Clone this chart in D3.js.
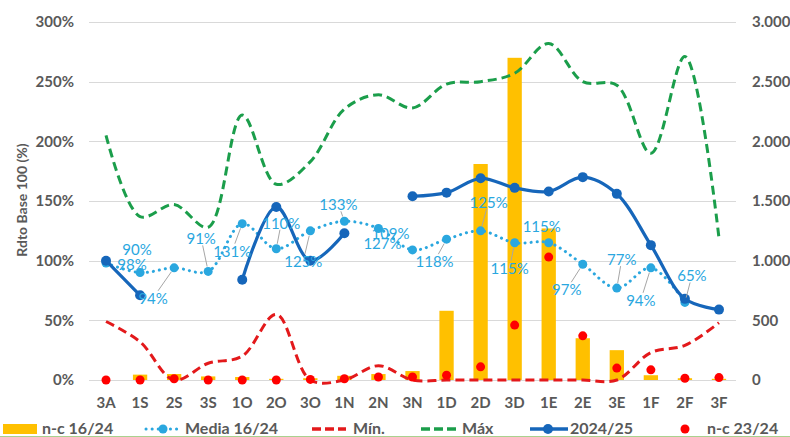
<!DOCTYPE html>
<html>
<head>
<meta charset="utf-8">
<script src="https://cdn.jsdelivr.net/npm/d3@7"></script>
<style>
  body { margin: 0; background: #fff; }
  svg { display: block; font-family: Lato, "Open Sans", sans-serif; }
</style>
</head>
<body>
<svg id="chart" width="790" height="437"></svg>
<script>
// categories (weeks)
const categories = ["3A","1S","2S","3S","1O","2O","3O","1N","2N","3N","1D","2D","3D","1E","2E","3E","1F","2F","3F"]

// right axis (n-c counts)
const nc1624 = [0, 45, 50, 30, 25, 10, 15, 35, 50, 75, 580, 1810, 2700, 1270, 350, 250, 40, 15, 10]
const nc2324 = [0, 0, 10, 0, 0, 0, 5, 10, 25, 25, 40, 110, 460, 1030, 370, 100, 85, 15, 20]

// left axis (ratio, 1 = 100%)
const media1624 = [0.98, 0.90, 0.94, 0.91, 1.31, 1.10, 1.25, 1.33, 1.27, 1.09, 1.18, 1.25, 1.15, 1.15, 0.97, 0.77, 0.94, 0.65, null]
const minVals = [0.49, 0.32, 0, 0.14, 0.20, 0.55, 0, 0, 0.12, 0, 0, 0, 0, 0, 0, 0, 0.23, 0.29, 0.48]
const maxVals = [2.05, 1.37, 1.47, 1.28, 2.22, 1.64, 1.83, 2.27, 2.39, 2.28, 2.48, 2.50, 2.57, 2.82, 2.50, 2.47, 1.90, 2.71, 1.19]
const season2425 = [1.00, 0.71, null, null, 0.84, 1.45, 1.00, 1.23, null, 1.54, 1.57, 1.69, 1.61, 1.58, 1.70, 1.56, 1.13, 0.68, 0.59]

const leftTicks = [0, 0.5, 1, 1.5, 2, 2.5, 3]
const rightTicks = [0, 500, 1000, 1500, 2000, 2500, 3000]

// label placement for the Media 16/24 data labels (moved by hand in the original)
const labelOffsets = [[26,1],[-3,-24],[-21,30],[-7,-33],[-10,27],[5,-26],[-7,30],[-6,-17],[4,15],[-22,-17],[-12,22],[8,-29],[-5,25],[-7,-17],[-16,25],[5,-29],[-10,32],[7,-27]]
const hasLeader = [false,false,true,true,true,true,true,true,false,false,true,true,true,false,true,true,true,true]

const colors = {
  bar: "#FFC000",
  media: "#2AA7DF",
  min: "#E3191B",
  max: "#1B9E4B",
  cur: "#1666BA",
  dot: "#FF0000",
  grid: "#D9D9D9",
  text: "#595959",
}

const margin = { top: 22, bottom: 57, left: 89, right: 54 }
const svg = d3.select("#chart")
const width = +svg.attr("width")
const height = +svg.attr("height")

const x = d3.scaleBand().domain(categories).range([margin.left, width - margin.right]).paddingInner(0.58).paddingOuter(0.29)
const xc = (c) => x(c) + x.bandwidth() / 2

const yL = d3.scaleLinear().domain([0, 3]).range([height - margin.bottom, margin.top])
const yR = d3.scaleLinear().domain([0, 3000]).range([height - margin.bottom, margin.top])

const esLocale = d3.formatLocale({ decimal: ",", thousands: ".", grouping: [3], currency: ["", "€"] })

// gridlines
svg.append("g")
  .selectAll("line")
  .data(leftTicks)
  .join("line")
  .attr("x1", margin.left)
  .attr("x2", width - margin.right)
  .attr("y1", (d) => Math.round(yL(d)) + 0.5)
  .attr("y2", (d) => Math.round(yL(d)) + 0.5)
  .attr("stroke", colors.grid)
  .attr("stroke-width", 1)

// axes
const gLeft = svg.append("g")
  .attr("transform", `translate(${margin.left - 15},0)`)
  .call(d3.axisLeft(yL).tickValues(leftTicks).tickFormat(d3.format(".0%")).tickSize(0))
const gRight = svg.append("g")
  .attr("transform", `translate(${width - margin.right + 16},0)`)
  .call(d3.axisRight(yR).tickValues(rightTicks).tickFormat(esLocale.format(",.0f")).tickSize(0))
const gX = svg.append("g")
  .attr("transform", `translate(0,${height - margin.bottom + 14})`)
  .call(d3.axisBottom(x).tickSize(0))

;[gLeft, gRight, gX].forEach((g) => {
  g.select(".domain").remove()
  g.selectAll("text")
    .attr("fill", colors.text)
    .attr("font-family", "Lato, sans-serif")
    .attr("font-size", 15)
    .attr("font-weight", "bold")
})
gLeft.selectAll("text").attr("x", 0)
gRight.selectAll("text").attr("x", 0)

// y title
svg.append("text")
  .attr("transform", `translate(27,${200}) rotate(-90)`)
  .attr("text-anchor", "middle")
  .attr("fill", colors.text)
  .attr("font-size", 14)
  .attr("font-weight", "bold")
  .text("Rdto Base 100 (%)")

// bars n-c 16/24
svg.append("g")
  .selectAll("rect")
  .data(categories.map((c, i) => ({ c, v: nc1624[i] })))
  .join("rect")
  .attr("x", (d) => x(d.c))
  .attr("width", x.bandwidth())
  .attr("y", (d) => yR(d.v))
  .attr("height", (d) => yR(0) - yR(d.v))
  .attr("fill", colors.bar)

const curve = d3.curveCatmullRom.alpha(0.5)
const lineL = d3.line()
  .defined((d) => d.v != null)
  .x((d) => xc(d.c))
  .y((d) => yL(d.v))
  .curve(curve)

function series(vals) {
  return categories.map((c, i) => ({ c, v: vals[i] }))
}

// Mín
svg.append("path")
  .datum(series(minVals))
  .attr("d", lineL)
  .attr("fill", "none")
  .attr("stroke", colors.min)
  .attr("stroke-width", 3)
  .attr("stroke-dasharray", "9 5")

// Máx
svg.append("path")
  .datum(series(maxVals))
  .attr("d", lineL)
  .attr("fill", "none")
  .attr("stroke", colors.max)
  .attr("stroke-width", 3)
  .attr("stroke-dasharray", "9 5")

// Media 16/24
const mediaData = series(media1624)
svg.append("path")
  .datum(mediaData)
  .attr("d", lineL)
  .attr("fill", "none")
  .attr("stroke", colors.media)
  .attr("stroke-width", 3)
  .attr("stroke-linecap", "round")
  .attr("stroke-dasharray", "0.1 6")
svg.append("g")
  .selectAll("circle")
  .data(mediaData.filter((d) => d.v != null))
  .join("circle")
  .attr("cx", (d) => xc(d.c))
  .attr("cy", (d) => yL(d.v))
  .attr("r", 4.5)
  .attr("fill", colors.media)

// 2024/25
const curData = series(season2425)
svg.append("path")
  .datum(curData)
  .attr("d", lineL)
  .attr("fill", "none")
  .attr("stroke", colors.cur)
  .attr("stroke-width", 3.2)
svg.append("g")
  .selectAll("circle")
  .data(curData.filter((d) => d.v != null))
  .join("circle")
  .attr("cx", (d) => xc(d.c))
  .attr("cy", (d) => yL(d.v))
  .attr("r", 5)
  .attr("fill", colors.cur)

// n-c 23/24 dots
svg.append("g")
  .selectAll("circle")
  .data(series(nc2324))
  .join("circle")
  .attr("cx", (d) => xc(d.c))
  .attr("cy", (d) => yR(d.v))
  .attr("r", 4.5)
  .attr("fill", colors.dot)

// Media labels with leader lines
const gLab = svg.append("g")
const labData = mediaData.filter((d) => d.v != null).map((d, i) => ({
  ...d,
  px: xc(d.c),
  py: yL(d.v),
  lx: xc(d.c) + labelOffsets[i][0],
  ly: yL(d.v) + labelOffsets[i][1],
  leader: hasLeader[i],
}))
const gLeaders = gLab.append("g")
const labels = gLab.selectAll("text")
  .data(labData)
  .join("text")
  .attr("x", (d) => d.lx)
  .attr("y", (d) => d.ly)
  .attr("text-anchor", "middle")
  .attr("dominant-baseline", "central")
  .attr("fill", colors.media)
  .attr("font-size", 15)
  .text((d) => d3.format(".0%")(d.v))

labels.each(function (d) {
  if (!d.leader) return
  const b = this.getBBox()
  // intersect segment label-center -> point with label box
  const dx = d.px - d.lx
  const dy = d.py - d.ly
  const hw = b.width / 2 + 1
  const hh = b.height / 2 - 2
  const t = Math.min(Math.abs(dx) > 0 ? hw / Math.abs(dx) : Infinity, Math.abs(dy) > 0 ? hh / Math.abs(dy) : Infinity)
  const sx = d.lx + dx * t
  const sy = d.ly + dy * t
  const len = Math.hypot(d.px - sx, d.py - sy)
  if (len < 8) return
  const ex = d.px - ((d.px - sx) / len) * 5
  const ey = d.py - ((d.py - sy) / len) * 5
  gLeaders.append("line")
    .attr("x1", sx).attr("y1", sy)
    .attr("x2", ex).attr("y2", ey)
    .attr("stroke", "#A6A6A6")
    .attr("stroke-width", 1)
})

// legend
const legendY = 429
const legendBase = 434
const legend = svg.append("g").attr("font-size", 16).attr("font-weight", "bold").attr("fill", colors.text)

legend.append("rect").attr("x", 3).attr("y", legendY - 5).attr("width", 34).attr("height", 10).attr("fill", colors.bar)
legend.append("text").attr("x", 42).attr("y", legendBase).text("n-c 16/24")

legend.append("line").attr("x1", 146).attr("x2", 178).attr("y1", legendY).attr("y2", legendY)
  .attr("stroke", colors.media).attr("stroke-width", 3).attr("stroke-linecap", "round").attr("stroke-dasharray", "0.1 6")
legend.append("circle").attr("cx", 163).attr("cy", legendY).attr("r", 4.5).attr("fill", colors.media)
legend.append("text").attr("x", 185).attr("y", legendBase).text("Media 16/24")

legend.append("line").attr("x1", 312).attr("x2", 346).attr("y1", legendY).attr("y2", legendY)
  .attr("stroke", colors.min).attr("stroke-width", 3.5).attr("stroke-dasharray", "9 4")
legend.append("text").attr("x", 353).attr("y", legendBase).text("Mín.")

legend.append("line").attr("x1", 421).attr("x2", 457).attr("y1", legendY).attr("y2", legendY)
  .attr("stroke", colors.max).attr("stroke-width", 3.5).attr("stroke-dasharray", "9 4")
legend.append("text").attr("x", 462).attr("y", legendBase).text("Máx")

legend.append("line").attr("x1", 530).attr("x2", 568).attr("y1", legendY).attr("y2", legendY)
  .attr("stroke", colors.cur).attr("stroke-width", 3.5)
legend.append("circle").attr("cx", 548).attr("cy", legendY).attr("r", 5).attr("fill", colors.cur)
legend.append("text").attr("x", 570).attr("y", legendBase).text("2024/25")

legend.append("circle").attr("cx", 685).attr("cy", legendY).attr("r", 4.5).attr("fill", colors.dot)
legend.append("text").attr("x", 707).attr("y", legendBase).text("n-c 23/24")

// thin frame line at the bottom edge
svg.append("line").attr("x1", 0).attr("x2", width).attr("y1", 436.5).attr("y2", 436.5)
  .attr("stroke", "#A9D18E").attr("stroke-width", 1)
</script>
</body>
</html>
